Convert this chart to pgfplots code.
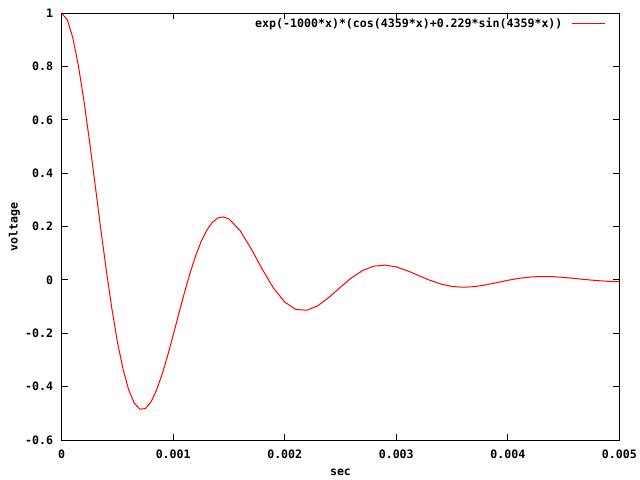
\documentclass[border=0pt]{standalone}
\usepackage{fontspec}
\setmainfont{DejaVu Sans Mono}
\usepackage{pgfplots}
\pgfplotsset{compat=1.18}
\pgfplotstableread{
x y
0 1.0000
0.00005 0.97583
0.0001 0.90772
0.00015 0.80307
0.0002 0.67033
0.00025 0.51847
0.0003 0.35648
0.00035 0.19302
0.0004 0.03596
0.00045 -0.10785
0.0005 -0.23287
0.00055 -0.33495
0.0006 -0.41145
0.00065 -0.46117
0.0007 -0.48431
0.00075 -0.48229
0.0008 -0.45762
0.00085 -0.41361
0.0009 -0.35418
0.00095 -0.28363
0.001 -0.20636
0.00105 -0.12665
0.0011 -0.04854
0.00115 0.02445
0.0012 0.08933
0.00125 0.14380
0.0013 0.18628
0.00135 0.21589
0.0014 0.23244
0.00145 0.23641
0.0015 0.22880
0.0016 0.18503
0.0017 0.11621
0.0018 0.03914
0.0019 -0.03094
0.002 -0.08279
0.0021 -0.11049
0.0022 -0.11347
0.0023 -0.09568
0.0024 -0.06405
0.0025 -0.02675
0.0026 0.00857
0.0027 0.03596
0.0028 0.05197
0.0029 0.05581
0.003 0.04901
0.0031 0.03470
0.0032 0.01680
0.0033 -0.00085
0.0034 -0.01515
0.0035 -0.02416
0.0036 -0.02722
0.0037 -0.02488
0.0038 -0.01853
0.0039 -0.01003
0.004 -0.00128
0.0041 0.00612
0.0042 0.01108
0.0043 0.01316
0.0044 0.01253
0.0045 0.00977
0.0046 0.00577
0.0047 0.00147
0.0048 -0.00232
0.0049 -0.00500
0.005 -0.00631
}\datatable
\begin{document}
\begin{tikzpicture}
\path[use as bounding box] (-61.7bp,-40bp) rectangle (578.3bp,440bp);
\begin{axis}[
  scale only axis,
  width=557.6bp, height=426.7bp,
  xmin=0, xmax=0.005, ymin=-0.6, ymax=1,
  font=\bfseries\fontsize{11.6bp}{14bp}\selectfont,
  axis line style={line width=1bp, black},
  every tick/.style={line width=1bp, black},
  major tick length=6bp,
  scaled ticks=false,
  xtick={0,0.001,0.002,0.003,0.004,0.005},
  xticklabels={0,0.001,0.002,0.003,0.004,0.005},
  ytick={-0.6,-0.4,-0.2,0,0.2,0.4,0.6,0.8,1},
  yticklabels={-0.6,-0.4,-0.2,0,0.2,0.4,0.6,0.8,1},
  xticklabel style={inner sep=0pt, anchor=north, yshift=-10bp},
  yticklabel style={inner sep=0pt, anchor=east, xshift=-8.5bp},
  xlabel={sec},
  ylabel={voltage},
  xlabel style={at={(axis description cs:0.5,0)}, anchor=center, inner sep=0pt, yshift=-32.7bp},
  ylabel style={at={(axis description cs:0,0.5)}, anchor=center, inner sep=0pt, yshift=47.3bp},
  legend plot pos=right,
  legend image code/.code={\draw[#1] (0bp,0bp) -- (33bp,0bp);},
  legend style={draw=none, fill=none, inner sep=0pt, nodes={inner sep=0pt}, column sep=9bp,
    at={(rel axis cs:0.9756,0.9766)}, anchor=east, font=\bfseries\fontsize{11.6bp}{14bp}\selectfont},
]
\addplot[red, line width=1bp] table[x=x, y=y] {\datatable};
\addlegendentry{exp(-1000*x)*(cos(4359*x)+0.229*sin(4359*x))}
\end{axis}
\end{tikzpicture}
\end{document}
